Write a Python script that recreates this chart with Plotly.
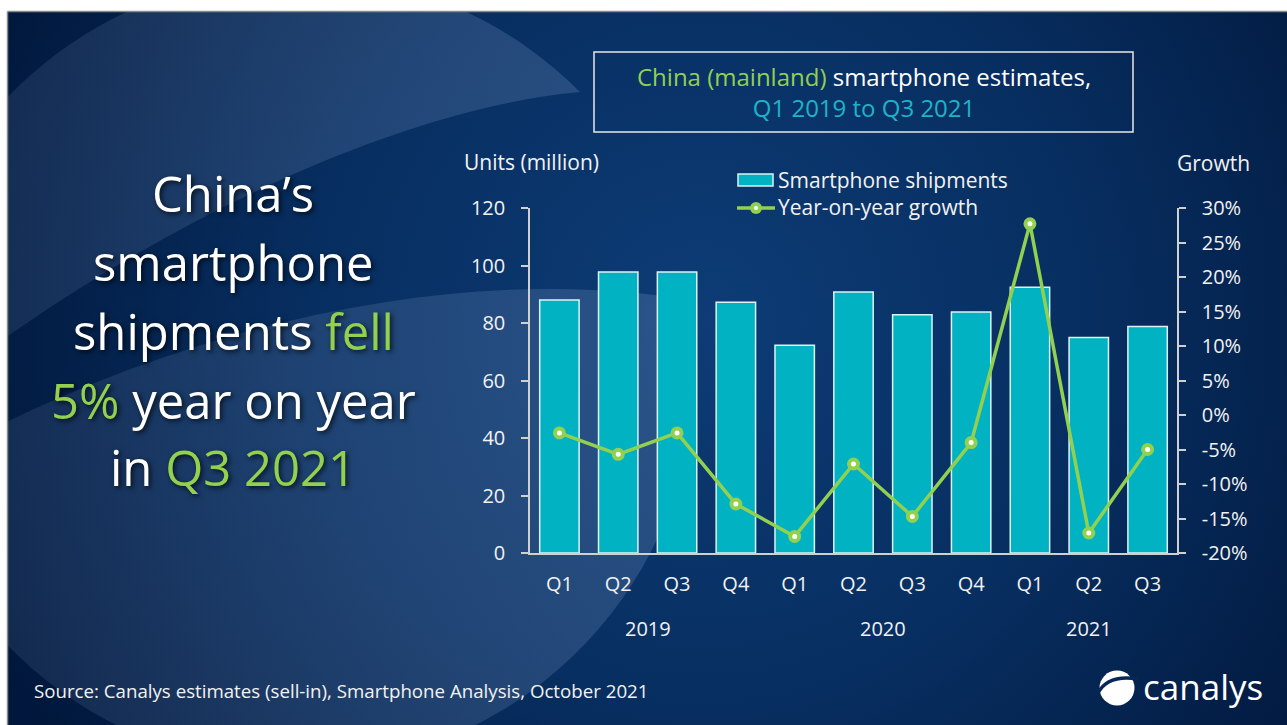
import base64
import plotly.graph_objects as go

# ---------------- data ----------------
quarters = ["Q1", "Q2", "Q3", "Q4", "Q1", "Q2", "Q3", "Q4", "Q1", "Q2", "Q3"]
years = ["2019", "2019", "2019", "2019", "2020", "2020", "2020", "2020", "2021", "2021", "2021"]
shipments = [88.0, 97.7, 97.7, 87.2, 72.3, 90.8, 82.9, 83.8, 92.4, 75.0, 78.8]
growth = [-2.6, -5.7, -2.6, -12.9, -17.6, -7.1, -14.7, -4.0, 27.7, -17.1, -5.0]
left_ticks = [0, 20, 40, 60, 80, 100, 120]
right_ticks = [-20, -15, -10, -5, 0, 5, 10, 15, 20, 25, 30]

# ---------------- geometry ----------------
W, H = 1287, 725
L, R, T, B = 530, 110, 208, 172
PW, PH = W - L - R, H - T - B


def px(x):
    return (x - L) / PW


def py(y):
    return (H - B - y) / PH


GREEN = "#92D050"
CYAN = "#1DB4C8"
BAR = "#00B2C2"
FONT = "Open Sans"

# ---------------- background (decorative svg) ----------------
svg = f'''<svg xmlns="http://www.w3.org/2000/svg" width="{W}" height="{H}" viewBox="0 0 {W} {H}">
<defs>
<radialGradient id="bg" cx="700" cy="320" r="780" gradientUnits="userSpaceOnUse">
<stop offset="0" stop-color="#0d3c76"/>
<stop offset="0.5" stop-color="#072e60"/>
<stop offset="1" stop-color="#01173b"/>
</radialGradient>
<linearGradient id="sw" x1="0" y1="0" x2="1" y2="0">
<stop offset="0" stop-color="#9fb8e0" stop-opacity="0.10"/>
<stop offset="1" stop-color="#9fb8e0" stop-opacity="0.20"/>
</linearGradient>
</defs>
<rect width="{W}" height="{H}" fill="#ffffff"/>
<rect x="8" y="12" width="{W-8}" height="{H-12}" fill="url(#bg)"/>
<path d="M 580 92 A 400 400 0 0 0 -101 420 C 100 250 380 110 580 92 Z" fill="url(#sw)"/>
<path d="M -101 480 C 150 330 450 260 690 300 A 400 400 0 0 1 -81 502 Z" fill="url(#sw)"/>
<rect x="0" y="0" width="{W}" height="11" fill="#ffffff"/>
<rect x="0" y="0" width="7" height="{H}" fill="#ffffff"/>
<line x1="7.5" y1="11.5" x2="{W}" y2="11.5" stroke="#8a8a8a" stroke-width="1.5"/>
<line x1="7.5" y1="11.5" x2="7.5" y2="{H}" stroke="#8a8a8a" stroke-width="1.5"/>
<circle cx="1117" cy="688" r="17.5" fill="#ffffff"/>
<path d="M 1098 693 Q 1108 674 1138 679" stroke="#06275a" stroke-width="3.5" fill="none"/>
</svg>'''
bg_uri = "data:image/svg+xml;base64," + base64.b64encode(svg.encode()).decode()

fig = go.Figure()

fig.add_trace(go.Bar(
    x=list(range(len(shipments))), y=shipments, name="Smartphone shipments",
    marker=dict(color=BAR, line=dict(color="#dcf3f6", width=1.5)),
    width=0.67, showlegend=False,
))
fig.add_trace(go.Scatter(
    x=list(range(len(growth))), y=growth, name="Year-on-year growth", yaxis="y2",
    mode="lines+markers",
    line=dict(color=GREEN, width=3.5),
    marker=dict(color="#ffffff", size=9, line=dict(color=GREEN, width=4)),
    showlegend=False,
))

tickfont = dict(family=FONT, size=20, color="#f2f2f2")
axline = "#d0d0d0"

fig.update_layout(
    width=W, height=H, autosize=False,
    margin=dict(l=L, r=R, t=T, b=B, pad=0),
    paper_bgcolor="#062a5a", plot_bgcolor="rgba(0,0,0,0)",
    font=dict(family=FONT, color="#ffffff"),
    xaxis=dict(
        range=[-0.5, len(quarters) - 0.5], tickmode="array",
        tickvals=list(range(len(quarters))), ticktext=quarters,
        tickfont=tickfont, showgrid=False, zeroline=False,
        showline=True, linecolor=axline, linewidth=1.5, ticks="",
        ticklabelstandoff=12,
    ),
    yaxis=dict(
        range=[0, 120], tickmode="array", tickvals=left_ticks,
        tickfont=tickfont, showgrid=False, zeroline=False,
        showline=True, linecolor=axline, linewidth=1.5,
        ticks="outside", ticklen=7, tickwidth=1.5, tickcolor=axline,
        ticklabelstandoff=12,
    ),
    yaxis2=dict(
        range=[-20, 30], overlaying="y", side="right", tickmode="array",
        tickvals=right_ticks, ticktext=[f"{v}%" for v in right_ticks],
        tickfont=tickfont, showgrid=False, zeroline=False,
        showline=True, linecolor=axline, linewidth=1.5,
        ticks="outside", ticklen=7, tickwidth=1.5, tickcolor=axline,
        ticklabelstandoff=12,
    ),
    showlegend=False,
)

fig.add_layout_image(dict(
    source=bg_uri, xref="paper", yref="paper",
    x=px(0), y=py(0), sizex=W / PW, sizey=H / PH,
    xanchor="left", yanchor="top", sizing="stretch", layer="below",
))

ann = []

# big left headline
shadow = "2px 2px 5px rgba(0,0,0,0.75)"
big = [
    ("China’s", 193),
    ("smartphone", 262),
    (f"shipments <span style='color:{GREEN}'>fell</span>", 331),
    (f"<span style='color:{GREEN}'>5%</span> year on year", 400),
    (f"in <span style='color:{GREEN}'>Q3 2021</span>", 467),
]
for txt, yy in big:
    ann.append(dict(text=txt, x=px(233), y=py(yy), xref="paper", yref="paper",
                    xanchor="center", yanchor="middle", showarrow=False,
                    font=dict(family=FONT, size=49, color="#ffffff", shadow=shadow)))

# title box text (two lines in one block)
ann.append(dict(text=(f"<span style='color:{GREEN}'>China (mainland)</span> smartphone estimates,"
                      f"<br><span style='color:{CYAN}'>Q1 2019 to Q3 2021</span>"),
                x=px(864), y=py(92), xref="paper", yref="paper", xanchor="center",
                yanchor="middle", align="center", showarrow=False,
                font=dict(family=FONT, size=24, color="#ffffff")))

# axis titles
ann.append(dict(text="Units (million)", x=px(531), y=py(162), xref="paper", yref="paper",
                xanchor="center", yanchor="middle", showarrow=False,
                font=dict(family=FONT, size=21, color="#f2f2f2")))
ann.append(dict(text="Growth", x=px(1213), y=py(163), xref="paper", yref="paper",
                xanchor="center", yanchor="middle", showarrow=False,
                font=dict(family=FONT, size=21, color="#f2f2f2")))

# legend labels
ann.append(dict(text="Smartphone shipments", x=px(776), y=py(180), xref="paper", yref="paper",
                xanchor="left", yanchor="middle", showarrow=False,
                font=dict(family=FONT, size=21, color="#f2f2f2")))
ann.append(dict(text="Year-on-year growth", x=px(776), y=py(207), xref="paper", yref="paper",
                xanchor="left", yanchor="middle", showarrow=False,
                font=dict(family=FONT, size=21, color="#f2f2f2")))

# year group labels (centred under their quarters)
for yr in dict.fromkeys(years):
    idx = [i for i, v in enumerate(years) if v == yr]
    ann.append(dict(text=yr, x=sum(idx) / len(idx), y=py(628), xref="x", yref="paper",
                    xanchor="center", yanchor="middle", showarrow=False,
                    font=dict(family=FONT, size=20, color="#f2f2f2")))

# source & brand
ann.append(dict(text="Source: Canalys estimates (sell-in), Smartphone Analysis, October 2021",
                x=px(32), y=py(690), xref="paper", yref="paper", xanchor="left",
                yanchor="middle", showarrow=False,
                font=dict(family=FONT, size=18.7, color="#f2f2f2")))
ann.append(dict(text="canalys", x=px(1141), y=py(686), xref="paper", yref="paper",
                xanchor="left", yanchor="middle", showarrow=False,
                font=dict(family=FONT, size=35, color="#ffffff")))

fig.update_layout(annotations=ann)

shapes = [
    # title box
    dict(type="rect", xref="paper", yref="paper", x0=px(594), x1=px(1133), y0=py(52), y1=py(132),
         line=dict(color="#e8e8e8", width=1.5), fillcolor="rgba(0,0,0,0)"),
    # legend icons
    dict(type="rect", xref="paper", yref="paper", x0=px(738), x1=px(773), y0=py(174), y1=py(186),
         line=dict(color="#dcf3f6", width=1.5), fillcolor=BAR),
    dict(type="line", xref="paper", yref="paper", x0=px(737), x1=px(775), y0=py(208), y1=py(208),
         line=dict(color=GREEN, width=3.5)),
    dict(type="circle", xref="paper", yref="paper", x0=px(750), x1=px(762), y0=py(202), y1=py(214),
         line=dict(color=GREEN, width=0), fillcolor=GREEN),
    dict(type="circle", xref="paper", yref="paper", x0=px(754), x1=px(758), y0=py(206), y1=py(210),
         line=dict(color="#ffffff", width=0), fillcolor="#ffffff"),
]
fig.update_layout(shapes=shapes)

fig.write_html("out.html")
